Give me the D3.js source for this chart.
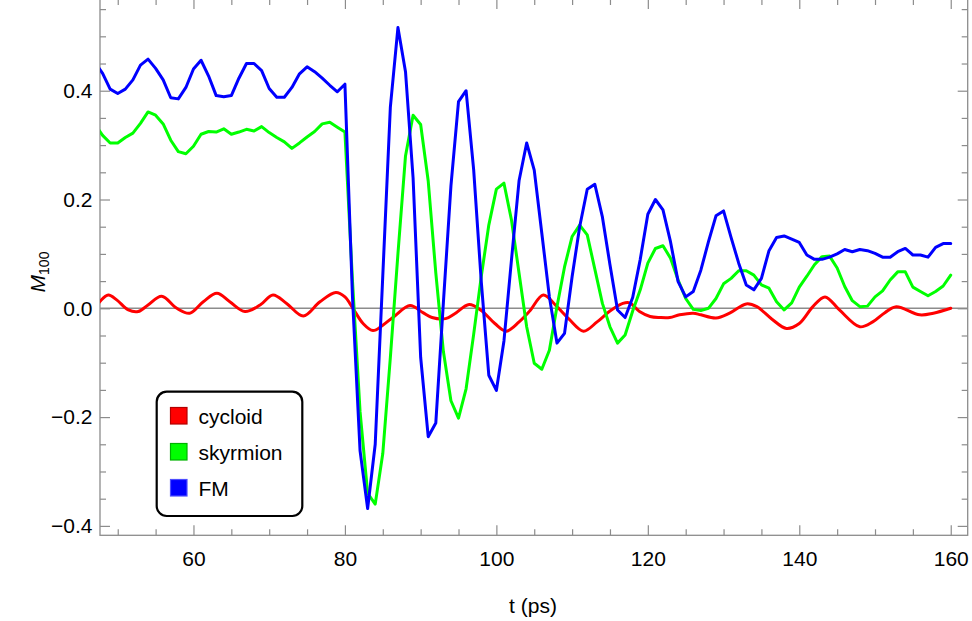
<!DOCTYPE html>
<html>
<head>
<meta charset="utf-8">
<script src="https://cdn.jsdelivr.net/npm/d3@7/dist/d3.min.js"></script>
<style>
  html, body { margin: 0; padding: 0; background: #fff; }
  svg { display: block; }
  text { font-family: "Liberation Sans", Arial, Helvetica, sans-serif; fill: #000; }
</style>
</head>
<body>
<svg id="chart" width="972" height="621"></svg>
<script>
// ---------------- data ----------------
const times = [47,48,49,50,51,52,53,54,55,56,57,58,59,60,61,62,63,64,65,66,67,68,69,70,
  71,72,73,74,75,76,77,78,79,80,81,82,83,84,85,86,87,88,89,90,91,92,93,94,95,96,97,98,99,100,
  101,102,103,104,105,106,107,108,109,110,111,112,113,114,115,116,117,118,119,120,
  121,122,123,124,125,126,127,128,129,130,131,132,133,134,135,136,137,138,139,140,
  141,142,143,144,145,146,147,148,149,150,151,152,153,154,155,156,157,158,159,160];

const fmValues = [0.452,0.432,0.403,0.395,0.403,0.420,0.447,0.458,0.441,0.420,0.387,0.385,0.406,0.440,
  0.456,0.427,0.391,0.389,0.391,0.423,0.450,0.450,0.437,0.404,0.388,0.388,0.406,0.431,0.444,0.435,
  0.423,0.410,0.398,0.412,0.020,-0.262,-0.368,-0.250,0.060,0.370,0.516,0.435,0.240,-0.090,-0.236,
  -0.211,0.010,0.225,0.380,0.400,0.255,0.050,-0.123,-0.151,-0.060,0.090,0.235,0.304,0.254,0.138,
  0.021,-0.064,-0.046,0.058,0.150,0.219,0.228,0.168,0.080,-0.003,-0.017,0.020,0.090,0.173,0.200,
  0.181,0.122,0.049,0.021,0.031,0.070,0.122,0.170,0.179,0.130,0.083,0.043,0.034,0.055,0.106,0.130,
  0.133,0.127,0.121,0.098,0.090,0.090,0.094,0.100,0.108,0.104,0.108,0.106,0.101,0.094,0.094,0.104,
  0.110,0.098,0.098,0.094,0.112,0.119,0.119];

const skyrmionValues = [0.338,0.318,0.304,0.304,0.314,0.322,0.340,0.361,0.355,0.339,0.309,0.288,0.284,
  0.298,0.320,0.325,0.324,0.330,0.320,0.324,0.329,0.326,0.334,0.323,0.314,0.306,0.294,0.304,0.315,
  0.325,0.339,0.342,0.333,0.324,0.050,-0.190,-0.340,-0.360,-0.267,-0.090,0.100,0.280,0.355,0.338,
  0.234,0.065,-0.079,-0.170,-0.202,-0.148,-0.048,0.058,0.153,0.219,0.230,0.162,0.064,-0.034,-0.101,
  -0.112,-0.077,0.003,0.076,0.132,0.153,0.135,0.072,0.009,-0.034,-0.064,-0.049,-0.005,0.034,0.083,
  0.110,0.115,0.092,0.052,0.018,-0.002,-0.004,0.000,0.018,0.045,0.055,0.069,0.069,0.061,0.043,0.037,
  0.012,-0.003,0.010,0.039,0.059,0.080,0.095,0.096,0.074,0.040,0.014,0.003,0.004,0.021,0.032,0.052,
  0.067,0.067,0.039,0.031,0.023,0.031,0.041,0.061];

const cycloidTimes = [47.5,48.75,49.9,51.4,52.7,54.0,55.8,57.8,59.5,61.3,63.1,64.8,66.8,68.8,70.5,72.3,
  74.5,76.7,78.8,80.0,81.05,82.4,83.7,85.0,86.5,88.6,90.3,91.5,93.3,94.5,96.4,98.0,99.8,101.3,103.0,
  104.4,106.2,108.0,109.6,111.5,113.3,115.0,116.7,117.6,118.9,120.3,121.6,122.9,124.2,126.0,127.0,
  129.0,130.8,133.0,134.4,136.4,138.3,140.0,141.8,143.4,145.3,148.0,149.7,151.3,152.8,155.9,157.7,160.0];
const cycloidValues = [0.010,0.0245,0.015,-0.003,-0.006,0.006,0.022,0.000,-0.009,0.012,0.0275,0.012,
  -0.006,0.006,0.0245,0.009,-0.014,0.012,0.029,0.021,0.000,-0.028,-0.041,-0.031,-0.015,0.005,-0.008,
  -0.017,-0.019,-0.010,0.007,-0.004,-0.028,-0.042,-0.025,-0.005,0.0245,0.003,-0.020,-0.042,-0.025,
  -0.005,0.009,0.010,-0.006,-0.015,-0.017,-0.017,-0.012,-0.009,-0.012,-0.018,-0.009,0.008,0.003,
  -0.020,-0.037,-0.028,0.003,0.021,-0.003,-0.034,-0.025,-0.008,0.003,-0.012,-0.009,0.000];

const seriesNames = ["cycloid", "skyrmion", "FM"];
const seriesColors = ["#ff0000", "#00ff00", "#0000ff"];
const xTickLabels = [60, 80, 100, 120, 140, 160];
const yTickLabels = [-0.4, -0.2, 0.0, 0.2, 0.4];

// ---------------- layout ----------------
const svg = d3.select("#chart");
const L = 100, R = 967.7, T = -1, B = 535.3;
const x = d3.scaleLinear().domain([47.657, 162.24]).range([L, R]);
const y = d3.scaleLinear().domain([-0.4173, 0.5686]).range([B, T]);

const frameColor = "#8c8c8c";
const fontSize = 21;

svg.append("defs").append("clipPath").attr("id", "clip")
  .append("rect").attr("x", L).attr("y", 0).attr("width", R - L).attr("height", B);

// zero line
svg.append("line").attr("x1", L).attr("x2", R).attr("y1", y(0)).attr("y2", y(0))
  .attr("stroke", frameColor).attr("stroke-width", 1.5);

// axes (ticks inward)
const xMajor = xTickLabels;
const xMinor = d3.range(50, 162, 5).filter(v => !xMajor.includes(v));
const yMajor = yTickLabels;
const yMinor = d3.range(-0.4, 0.56, 0.05).map(v => +v.toFixed(2)).filter(v => !yMajor.some(m => Math.abs(m - v) < 1e-6));

function styleAxis(g) {
  g.selectAll("path.domain").remove();
  g.selectAll(".tick line").attr("stroke", frameColor).attr("stroke-width", 1.2);
  g.selectAll(".tick text").style("font-size", fontSize + "px").attr("fill", "#000");
}

// bottom
svg.append("g").attr("transform", `translate(0,${B})`)
  .call(d3.axisBottom(x).tickValues(xMajor).tickSizeInner(-10).tickSizeOuter(0).tickPadding(16).tickFormat(d3.format("d")))
  .call(styleAxis);
svg.append("g").attr("transform", `translate(0,${B})`)
  .call(d3.axisBottom(x).tickValues(xMinor).tickSizeInner(-6).tickSizeOuter(0).tickFormat(""))
  .call(styleAxis);
// top
svg.append("g").attr("transform", `translate(0,${T})`)
  .call(d3.axisTop(x).tickValues(xMajor).tickSizeInner(-10).tickSizeOuter(0).tickFormat(""))
  .call(styleAxis);
svg.append("g").attr("transform", `translate(0,${T})`)
  .call(d3.axisTop(x).tickValues(xMinor).tickSizeInner(-6).tickSizeOuter(0).tickFormat(""))
  .call(styleAxis);
// left
const yFmt = v => (v < 0 ? "\u2212" : "") + Math.abs(v).toFixed(1);
svg.append("g").attr("transform", `translate(${L},0)`)
  .call(d3.axisLeft(y).tickValues(yMajor).tickSizeInner(-10).tickSizeOuter(0).tickPadding(7.5).tickFormat(yFmt))
  .call(styleAxis);
svg.append("g").attr("transform", `translate(${L},0)`)
  .call(d3.axisLeft(y).tickValues(yMinor).tickSizeInner(-6).tickSizeOuter(0).tickFormat(""))
  .call(styleAxis);
// right
svg.append("g").attr("transform", `translate(${R},0)`)
  .call(d3.axisRight(y).tickValues(yMajor).tickSizeInner(-10).tickSizeOuter(0).tickFormat(""))
  .call(styleAxis);
svg.append("g").attr("transform", `translate(${R},0)`)
  .call(d3.axisRight(y).tickValues(yMinor).tickSizeInner(-6).tickSizeOuter(0).tickFormat(""))
  .call(styleAxis);

// frame
svg.append("rect").attr("x", L).attr("y", T).attr("width", R - L).attr("height", B - T)
  .attr("fill", "none").attr("stroke", frameColor).attr("stroke-width", 1.3);

// ---------------- lines ----------------
const lineLinear = d3.line().x(d => x(d[0])).y(d => y(d[1]));
const lineSmooth = d3.line().x(d => x(d[0])).y(d => y(d[1])).curve(d3.curveCatmullRom.alpha(0.5));

const plot = svg.append("g").attr("clip-path", "url(#clip)");
const seriesData = [
  { pts: d3.zip(cycloidTimes, cycloidValues), gen: lineSmooth },
  { pts: d3.zip(times, skyrmionValues), gen: lineLinear },
  { pts: d3.zip(times, fmValues), gen: lineLinear }
];
seriesData.forEach((s, i) => {
  plot.append("path").attr("d", s.gen(s.pts))
    .attr("fill", "none").attr("stroke", seriesColors[i]).attr("stroke-width", 3)
    .attr("stroke-linejoin", "round").attr("stroke-linecap", "round");
});

// ---------------- axis titles ----------------
svg.append("text").attr("x", 533).attr("y", 613).attr("text-anchor", "middle")
  .style("font-size", fontSize + "px").text("t (ps)");

const yt = svg.append("text").attr("transform", "translate(45,272) rotate(-90)")
  .attr("text-anchor", "middle").style("font-size", "21px");
yt.append("tspan").style("font-style", "italic").text("M");
yt.append("tspan").attr("dy", 4).style("font-size", "14px").text("100");

// ---------------- legend ----------------
const lg = svg.append("g");
lg.append("rect").attr("x", 156.7).attr("y", 391.7).attr("width", 145.6).attr("height", 124.3)
  .attr("rx", 10).attr("ry", 10).attr("fill", "#fff").attr("stroke", "#000").attr("stroke-width", 2.2);
const swBorder = ["#b20000", "#00b200", "#4d4dff"];
seriesNames.forEach((name, i) => {
  const yy = 407.5 + i * 36;
  lg.append("rect").attr("x", 170.5).attr("y", yy).attr("width", 16.5).attr("height", 16.5)
    .attr("fill", seriesColors[i]).attr("stroke", swBorder[i]).attr("stroke-width", 1.2);
  lg.append("text").attr("x", 198.5).attr("y", yy + 16).style("font-size", fontSize + "px").text(name);
});
</script>
</body>
</html>
